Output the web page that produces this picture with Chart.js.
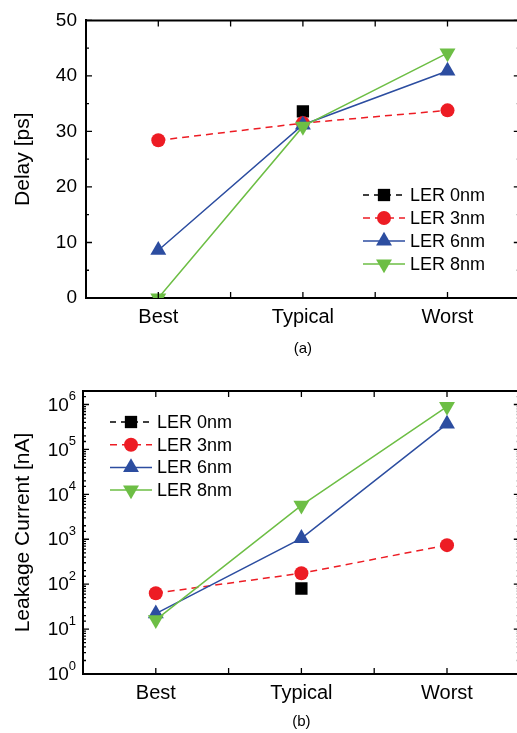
<!DOCTYPE html>
<html>
<head>
<meta charset="utf-8">
<script src="https://cdn.jsdelivr.net/npm/chart.js@4.4.0/dist/chart.umd.min.js"></script>
<style>
  html, body { margin: 0; padding: 0; background: #fff; overflow: hidden; }
  canvas { display: block; }
</style>
</head>
<body>
<canvas id="delayChart" width="529" height="360"></canvas>
<canvas id="leakChart" width="529" height="373"></canvas>
<script>
// data
var corners = ['Best', 'Typical', 'Worst'];
var seriesNames = ['LER 0nm', 'LER 3nm', 'LER 6nm', 'LER 8nm'];

var delay0nm = [null, 33.6, null];
var delay3nm = [28.4, 31.5, 33.8];
var delay6nm = [8.6, 31.2, 40.9];
var delay8nm = [0, 30.9, 44.1];

var leak0nm = [null, 80, null];
var leak3nm = [63, 175, 740];
var leak6nm = [22, 1050, 370000];
var leak8nm = [16, 5700, 900000];

var leakTicks = [1, 10, 100, 1000, 10000, 100000, 1000000];

var FONT = "'Liberation Sans', Arial, sans-serif";
var colors = ['#000000', '#ED1C24', '#2C4DA0', '#6DBE45'];

function makeDatasets(values) {
  var styles = [
    { pointStyle: 'rect', pointRadius: 8.7, borderDash: [6, 5], pointRotation: 0 },
    { pointStyle: 'circle', pointRadius: 7, borderDash: [7, 5], pointRotation: 0 },
    { pointStyle: 'triangle', pointRadius: 9.2, borderDash: [], pointRotation: 0 },
    { pointStyle: 'triangle', pointRadius: 9.2, borderDash: [], pointRotation: 180 }
  ];
  return values.map(function(v, i) {
    return {
      label: seriesNames[i],
      data: v,
      borderColor: colors[i],
      backgroundColor: colors[i],
      pointBackgroundColor: colors[i],
      pointBorderWidth: 0,
      borderWidth: 1.5,
      borderDash: styles[i].borderDash,
      pointStyle: styles[i].pointStyle,
      pointRadius: styles[i].pointRadius,
      pointRotation: styles[i].pointRotation,
      order: 4 - i,
      spanGaps: false
    };
  });
}

// box around the plot + inward tick marks
var frameTicks = {
  id: 'frameTicks',
  afterDatasetsDraw: function(chart) {
    var ctx = chart.ctx, a = chart.chartArea;
    var xs = chart.scales.x, ys = chart.scales.y;
    var isLog = ys.type === 'logarithmic';
    ctx.save();
    ctx.strokeStyle = '#000';
    ctx.lineWidth = 2;
    ctx.beginPath();
    ctx.moveTo(a.left, a.top);
    ctx.lineTo(a.right, a.top);
    ctx.lineTo(a.right, a.bottom);
    ctx.stroke();

    ctx.lineWidth = 1.3;
    ctx.beginPath();
    function vtick(px, len) {
      ctx.moveTo(px, a.bottom); ctx.lineTo(px, a.bottom - len);
      ctx.moveTo(px, a.top); ctx.lineTo(px, a.top + len);
    }
    function htick(py, len) {
      ctx.moveTo(a.left, py); ctx.lineTo(a.left + len, py);
      ctx.moveTo(a.right, py); ctx.lineTo(a.right - len, py);
    }
    var n = corners.length;
    for (var i = 0; i < n; i++) {
      vtick(xs.getPixelForValue(i), 6);
      if (i < n - 1) vtick(xs.getPixelForValue(i + 0.5), 6);
    }
    var t = ys.ticks;
    for (var j = 0; j < t.length; j++) {
      var v = t[j].value;
      var py = ys.getPixelForValue(v);
      if (py < a.top - 0.5 || py > a.bottom + 0.5) continue;
      if (isLog) {
        var e = Math.log10(v);
        htick(py, Math.abs(e - Math.round(e)) < 1e-6 ? 6 : 3);
      } else {
        htick(py, 6);
        if (j < t.length - 1) htick(ys.getPixelForValue((v + t[j + 1].value) / 2), 3);
      }
    }
    ctx.stroke();
    ctx.restore();
  }
};

// 10^n labels for the log axis
var powLabels = {
  id: 'powLabels',
  afterDraw: function(chart, args, opts) {
    if (!opts.values) return;
    var ctx = chart.ctx, ys = chart.scales.y;
    var xRight = chart.chartArea.left - opts.pad;
    ctx.save();
    ctx.fillStyle = '#000';
    ctx.textBaseline = 'middle';
    opts.values.forEach(function(v) {
      var py = ys.getPixelForValue(v);
      var exp = String(Math.round(Math.log10(v)));
      ctx.font = '13px ' + FONT;
      var ew = ctx.measureText(exp).width;
      ctx.textAlign = 'left';
      ctx.fillText(exp, xRight - ew, py - 8);
      ctx.font = '19px ' + FONT;
      ctx.textAlign = 'right';
      ctx.fillText('10', xRight - ew, py + 1);
    });
    ctx.restore();
  }
};

// legend drawn inside the plot
var innerLegend = {
  id: 'innerLegend',
  afterDraw: function(chart, args, opts) {
    var ctx = chart.ctx;
    ctx.save();
    chart.data.datasets.forEach(function(ds, i) {
      var y = opts.y + i * opts.gap;
      ctx.strokeStyle = ds.borderColor;
      ctx.lineWidth = 1.5;
      ctx.setLineDash(ds.borderDash || []);
      ctx.beginPath();
      ctx.moveTo(opts.x, y);
      ctx.lineTo(opts.x + 42, y);
      ctx.stroke();
      ctx.setLineDash([]);
      ctx.fillStyle = ds.pointBackgroundColor;
      Chart.helpers.drawPoint(ctx, {
        pointStyle: ds.pointStyle, rotation: ds.pointRotation,
        radius: ds.pointRadius, borderWidth: 0
      }, opts.x + 21, y);
      ctx.fillStyle = '#000';
      ctx.font = '18px ' + FONT;
      ctx.textAlign = 'left';
      ctx.textBaseline = 'middle';
      ctx.fillText(ds.label, opts.x + 47, y + 1);
    });
    ctx.restore();
  }
};

function baseOptions(cfg) {
  return {
    responsive: false,
    animation: false,
    layout: { padding: { top: cfg.top, right: 3, left: 0, bottom: 0 } },
    plugins: {
      legend: { display: false },
      tooltip: { enabled: false },
      innerLegend: cfg.legend,
      powLabels: cfg.pow || {}
    },
    scales: {
      x: {
        type: 'category',
        offset: true,
        grid: { display: false, drawTicks: false },
        border: { display: true, color: '#000', width: 2 },
        ticks: { color: '#000', font: { family: FONT, size: 20 }, padding: 7 },
        title: { display: true, text: cfg.caption, color: '#000',
                 font: { family: FONT, size: 15 }, padding: { top: 0, bottom: 2 } },
        afterFit: function(s) { s.height = cfg.xHeight; }
      },
      y: cfg.y
    }
  };
}

new Chart(document.getElementById('delayChart'), {
  type: 'line',
  data: { labels: corners, datasets: makeDatasets([delay0nm, delay3nm, delay6nm, delay8nm]) },
  options: baseOptions({
    top: 17,
    xHeight: 62,
    caption: '(a)',
    legend: { x: 363, y: 195, gap: 23 },
    y: {
      type: 'linear',
      min: 0, max: 50,
      grid: { display: false, drawTicks: false },
      border: { display: true, color: '#000', width: 2 },
      ticks: { stepSize: 10, color: '#000', font: { family: FONT, size: 19 }, padding: 9 },
      title: { display: true, text: 'Delay [ps]', color: '#000',
               font: { family: FONT, size: 21 }, padding: { top: 11, bottom: 0 } },
      afterFit: function(s) { s.width = 86; }
    }
  }),
  plugins: [frameTicks, innerLegend, powLabels]
});

new Chart(document.getElementById('leakChart'), {
  type: 'line',
  data: { labels: corners, datasets: makeDatasets([leak0nm, leak3nm, leak6nm, leak8nm]) },
  options: baseOptions({
    top: 31,
    xHeight: 59,
    caption: '(b)',
    legend: { x: 110, y: 62, gap: 22.7 },
    pow: { values: leakTicks, pad: 7 },
    y: {
      type: 'logarithmic',
      min: 1, max: 2000000,
      grid: { display: false, drawTicks: false },
      border: { display: true, color: '#000', width: 2 },
      ticks: { display: false },
      title: { display: true, text: 'Leakage Current [nA]', color: '#000',
               font: { family: FONT, size: 21 }, padding: { top: 11, bottom: 0 } },
      afterFit: function(s) { s.width = 83; }
    }
  }),
  plugins: [frameTicks, innerLegend, powLabels]
});
</script>
</body>
</html>
